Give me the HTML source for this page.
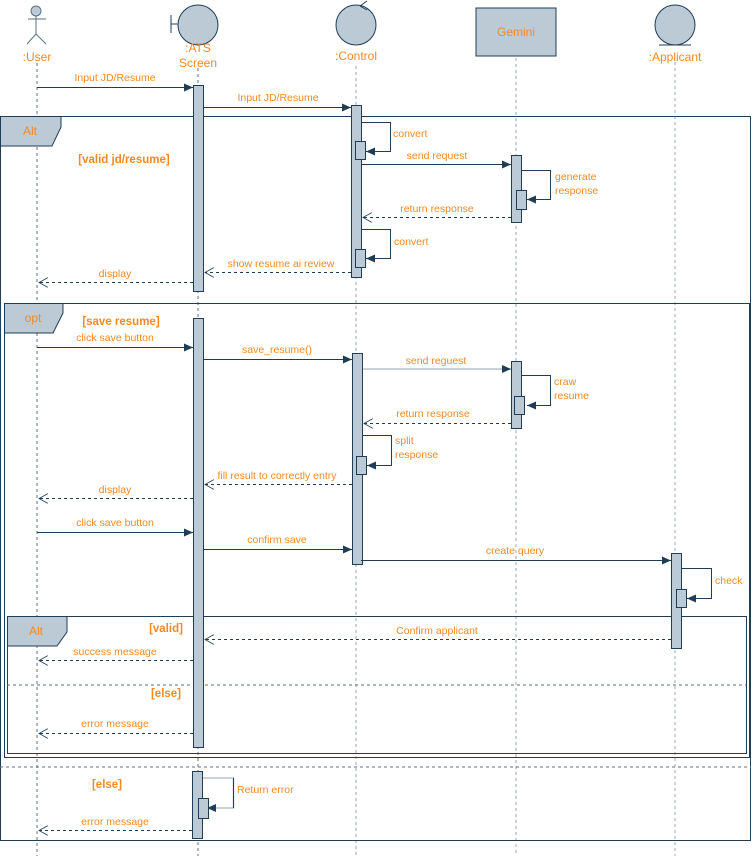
<!DOCTYPE html>
<html><head><meta charset="utf-8"><style>
html,body{margin:0;padding:0;background:#fff;}
svg{display:block;font-family:"Liberation Sans",Arial,sans-serif;}
text{fill:#f5891f;font-size:10.5px;}
.b{font-weight:bold;font-size:11.5px;}
.h{font-size:12px;}
.ll{stroke:#5a7287;stroke-width:1;stroke-dasharray:3,3;}
.act{fill:#bccad5;stroke:#1f3d56;stroke-width:1;}
.m{stroke:#1f3d56;stroke-width:1;fill:none;}
.d{stroke:#1f3d56;stroke-width:1;fill:none;stroke-dasharray:3,3;}
.f{fill:none;stroke:#1f3d56;stroke-width:1;}
</style></head><body>
<svg width="754" height="856" viewBox="0 0 754 856" xmlns="http://www.w3.org/2000/svg">
<defs>
<marker id="a" markerWidth="10" markerHeight="8" refX="9" refY="4" orient="auto" markerUnits="userSpaceOnUse"><path d="M0,0 L9,4 L0,8 z" fill="#1f3d56"/></marker>
<marker id="o" markerWidth="12" markerHeight="10" refX="9" refY="5" orient="auto" markerUnits="userSpaceOnUse"><path d="M0,0 L9,5 L0,10" fill="none" stroke="#1f3d56" stroke-width="0.8"/></marker>
</defs>
<!-- lifelines -->
<line class="ll" x1="37" y1="63" x2="37" y2="856"/>
<line class="ll" x1="198" y1="68" x2="198" y2="856"/>
<line class="ll" x1="356" y1="66" x2="356" y2="856" style="stroke:#9aa8b4"/>
<line class="ll" x1="516" y1="58" x2="516" y2="856" style="stroke:#9aa8b4"/>
<line class="ll" x1="675" y1="62" x2="675" y2="856" style="stroke:#9aa8b4"/>
<!-- heads -->
<circle cx="36" cy="11" r="5" fill="#bccad5" stroke="#5a7287"/>
<path d="M36,16 V34 M28,19 H46 M36,34 L27,44 M36,34 L46,44" stroke="#5a7287" fill="none"/>
<text x="37" y="61" class="h" text-anchor="middle">:User</text>
<circle cx="198" cy="25" r="20" fill="#bccad5" stroke="#1f3d56"/>
<path d="M171,15 V33 M171,24 H178" stroke="#1f3d56" fill="none"/>
<text x="198" y="52" class="h" text-anchor="middle">:ATS</text>
<text x="198" y="67" class="h" text-anchor="middle">Screen</text>
<circle cx="356" cy="25" r="20" fill="#bccad5" stroke="#1f3d56"/>
<path d="M360,6 L367,1 M360,6 L367,10" stroke="#1f3d56" fill="none"/>
<text x="356" y="60" class="h" text-anchor="middle">:Control</text>
<rect x="476" y="8" width="80" height="48" fill="#bccad5" stroke="#1f3d56"/>
<text x="516" y="36" class="h" text-anchor="middle">Gemini</text>
<circle cx="675" cy="25" r="20" fill="#bccad5" stroke="#1f3d56"/>
<line x1="659" y1="45" x2="691" y2="45" stroke="#1f3d56"/>
<text x="675" y="61" class="h" text-anchor="middle">:Applicant</text>

<!-- frames -->
<rect class="f" x="0.5" y="116.5" width="750" height="724"/>
<path d="M0.5,116.5 H61 V127 L52,146 H0.5 z" fill="#bccad5" stroke="#1f3d56"/>
<text x="30" y="135" class="h" text-anchor="middle">Alt</text>
<line class="d" x1="0" y1="767" x2="751" y2="767" style="stroke:#5a7287"/>
<rect class="f" x="4.5" y="303.5" width="745" height="454"/>
<path d="M4.5,303.5 H63 V313 L53,333 H4.5 z" fill="#bccad5" stroke="#1f3d56"/>
<text x="33" y="322" class="h" text-anchor="middle">opt</text>
<rect class="f" x="7.5" y="616.5" width="739" height="137"/>
<path d="M7.5,616.5 H67 V632 L57,646 H7.5 z" fill="#bccad5" stroke="#1f3d56"/>
<text x="36" y="635" class="h" text-anchor="middle">Alt</text>
<line class="d" x1="7" y1="685" x2="746" y2="685" style="stroke:#5a7287"/>

<text x="124" y="163" class="b" text-anchor="middle">[valid jd/resume]</text>
<text x="121" y="325" class="b" text-anchor="middle">[save resume]</text>
<text x="166" y="632" class="b" text-anchor="middle">[valid]</text>
<text x="166" y="697" class="b" text-anchor="middle">[else]</text>
<text x="107" y="788" class="b" text-anchor="middle">[else]</text>

<!-- activations -->
<rect class="act" x="193.5" y="85.5" width="10" height="206"/>
<rect class="act" x="351.5" y="105.5" width="10" height="172"/>
<rect class="act" x="511.5" y="155.5" width="10" height="67"/>
<rect class="act" x="193.5" y="318.5" width="10" height="429"/>
<rect class="act" x="352.5" y="353.5" width="10" height="211"/>
<rect class="act" x="511.5" y="361.5" width="10" height="67"/>
<rect class="act" x="671.5" y="553.5" width="10" height="95"/>
<rect class="act" x="192.5" y="771.5" width="10" height="67"/>

<!-- section 1 -->
<line class="m" x1="37" y1="87.5" x2="193" y2="87.5" marker-end="url(#a)"/>
<text x="115" y="81" text-anchor="middle">Input JD/Resume</text>
<line class="m" x1="204" y1="107.5" x2="351" y2="107.5" marker-end="url(#a)"/>
<text x="278" y="101" text-anchor="middle">Input JD/Resume</text>
<path class="m" d="M362,122.5 H390.5 V151.5 H366" marker-end="url(#a)"/>
<rect class="act" x="355.5" y="141.5" width="10" height="18"/>
<text x="393" y="137">convert</text>
<line class="m" x1="362" y1="164.5" x2="511" y2="164.5" marker-end="url(#a)"/>
<text x="437" y="159" text-anchor="middle">send request</text>
<path class="m" d="M522,170.5 H550.5 V199.5 H527" marker-end="url(#a)"/>
<rect class="act" x="516.5" y="190.5" width="10" height="19"/>
<text x="555" y="180">generate</text>
<text x="555" y="194">response</text>
<line class="d" x1="511" y1="217.5" x2="363" y2="217.5" marker-end="url(#o)"/>
<text x="437" y="212" text-anchor="middle">return response</text>
<path class="m" d="M362,229.5 H390.5 V258.5 H366" marker-end="url(#a)"/>
<rect class="act" x="355.5" y="249.5" width="10" height="18"/>
<text x="394" y="245">convert</text>
<line class="d" x1="351" y1="272.5" x2="205" y2="272.5" marker-end="url(#o)"/>
<text x="281" y="267" text-anchor="middle">show resume ai review</text>
<line class="d" x1="193" y1="282.5" x2="39" y2="282.5" marker-end="url(#o)"/>
<text x="115" y="277" text-anchor="middle">display</text>

<!-- opt -->
<line class="m" x1="37" y1="347.5" x2="193" y2="347.5" marker-end="url(#a)"/>
<text x="115" y="341" text-anchor="middle">click save button</text>
<line class="m" x1="204" y1="359.5" x2="352" y2="359.5" marker-end="url(#a)"/>
<text x="277" y="353" text-anchor="middle">save_resume()</text>
<line class="m" x1="363" y1="369" x2="511" y2="369" style="stroke:#b8c2ca;stroke-width:1.5" marker-end="url(#a)"/>
<text x="436" y="364" text-anchor="middle">send reguest</text>
<path class="m" d="M522,375.5 H550.5 V405.5 H527" marker-end="url(#a)"/>
<rect class="act" x="514.5" y="396.5" width="10" height="18"/>
<text x="554" y="385">craw</text>
<text x="554" y="399">resume</text>
<line class="d" x1="511" y1="423.5" x2="364" y2="423.5" marker-end="url(#o)"/>
<text x="433" y="417" text-anchor="middle">return response</text>
<path class="m" d="M363,435.5 H391.5 V465.5 H367" marker-end="url(#a)"/>
<rect class="act" x="356.5" y="456.5" width="10" height="18"/>
<text x="395" y="444">split</text>
<text x="395" y="458">response</text>
<line class="d" x1="352" y1="484.5" x2="205" y2="484.5" marker-end="url(#o)"/>
<text x="277" y="479" text-anchor="middle">fill result to correctly entry</text>
<line class="d" x1="193" y1="498.5" x2="39" y2="498.5" marker-end="url(#o)"/>
<text x="115" y="493" text-anchor="middle">display</text>
<line class="m" x1="37" y1="532.5" x2="193" y2="532.5" marker-end="url(#a)"/>
<text x="115" y="526" text-anchor="middle">click save button</text>
<line class="m" x1="204" y1="549.5" x2="352" y2="549.5" marker-end="url(#a)"/>
<text x="277" y="543" text-anchor="middle">confirm save</text>
<line class="m" x1="361" y1="560.5" x2="671" y2="560.5" marker-end="url(#a)"/>
<text x="515" y="554" text-anchor="middle">create query</text>
<path class="m" d="M682,568.5 H711.5 V598.5 H687" marker-end="url(#a)"/>
<rect class="act" x="676.5" y="589.5" width="10" height="18"/>
<text x="715" y="584">check</text>
<line class="d" x1="671" y1="639.5" x2="205" y2="639.5" marker-end="url(#o)"/>
<text x="437" y="634" text-anchor="middle">Confirm applicant</text>
<line class="d" x1="193" y1="660.5" x2="39" y2="660.5" marker-end="url(#o)"/>
<text x="115" y="655" text-anchor="middle">success message</text>
<line class="d" x1="193" y1="733.5" x2="39" y2="733.5" marker-end="url(#o)"/>
<text x="115" y="727" text-anchor="middle">error message</text>

<!-- else -->
<path class="m" d="M203,778 H233.5 V808 H213" style="stroke:#b8c2ca;stroke-width:1.5"/>
<path class="m" d="M233.5,778 V808" />
<path d="M216,804 L207,808 L216,812 z" fill="#1f3d56"/>
<rect class="act" x="198.5" y="798.5" width="10" height="20"/>
<text x="237" y="793">Return error</text>
<line class="d" x1="192" y1="830.5" x2="39" y2="830.5" marker-end="url(#o)"/>
<text x="115" y="825" text-anchor="middle">error message</text>
</svg>
</body></html>
